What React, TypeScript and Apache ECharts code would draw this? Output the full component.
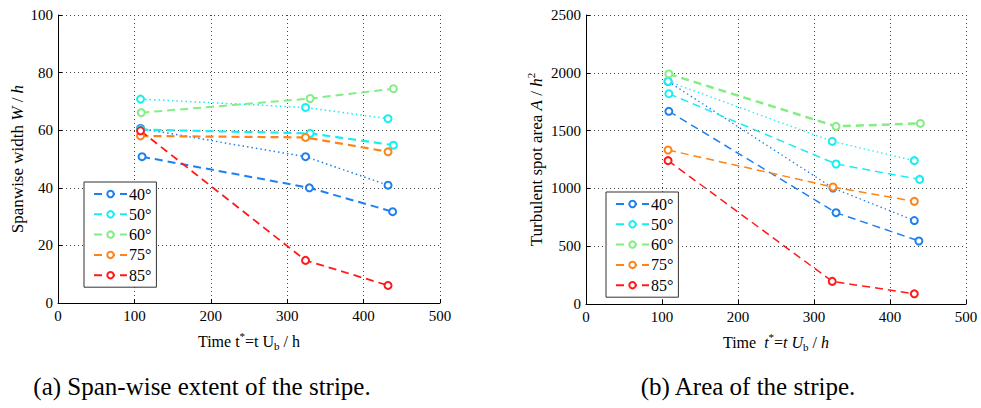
import React, { useEffect, useRef } from "react";
import * as echarts from "echarts";

// ---- data ----
const angleNames = ["40°", "50°", "60°", "75°", "85°"];
const angleColors = ["#1e80f0", "#18eef0", "#84ee84", "#ff8418", "#ff1a1a"];

// (a) Span-wise width W/h  (dashed sets)
const spanT40 = [110, 329, 438];
const spanW40 = [50.8, 40.0, 31.7];
const spanT50 = [108, 330, 439];
const spanW50 = [60.2, 58.9, 54.8];
const spanT60 = [109, 330, 439];
const spanW60 = [66.1, 71.0, 74.4];
const spanT75 = [108, 324, 432];
const spanW75 = [58.0, 57.5, 52.5];
const spanT85 = [108, 324, 432];
const spanW85 = [59.8, 14.8, 6.1];
// (a) dotted sets
const spanT40d = [108, 324, 432];
const spanW40d = [60.6, 50.8, 40.9];
const spanT50d = [108, 324, 432];
const spanW50d = [70.8, 67.9, 64.0];

// (b) Turbulent spot area A/h^2 (dashed sets)
const areaT40 = [109, 329, 438];
const areaA40 = [1667, 790, 545];
const areaT50 = [109, 329, 439];
const areaA50 = [1819, 1211, 1078];
const areaT60 = [109, 329, 440];
const areaA60 = [1990, 1537, 1562];
const areaT75 = [108, 325, 432];
const areaA75 = [1332, 1012, 888];
const areaT85 = [108, 324, 432];
const areaA85 = [1240, 196, 88];
// (b) dotted sets
const areaT40d = [108, 325, 432];
const areaA40d = [1925, 1003, 722];
const areaT50d = [108, 324, 432];
const areaA50d = [1926, 1407, 1240];

const captionA = "(a) Span-wise extent of the stripe.";
const captionB = "(b) Area of the stripe.";

const FONT = "Liberation Serif, serif";

const zip = (xs: number[], ys: number[]) => xs.map((x, i) => [x, ys[i]]);

export default function App() {
  const ref = useRef<HTMLDivElement>(null);
  useEffect(() => {
    document.body.style.margin = "0";
    const chart = echarts.init(ref.current!, undefined, { renderer: "svg" });

    const mk = (
      name: string,
      idx: number,
      data: number[][],
      color: string,
      dotted: boolean,
      width: number
    ) => ({
      type: "line",
      name,
      xAxisIndex: idx,
      yAxisIndex: idx,
      data,
      symbol: "emptyCircle",
      symbolSize: 7,
      showSymbol: true,
      lineStyle: { color, width, type: dotted ? [1.5, 3] : [8, 5] },
      itemStyle: { color, borderColor: color, borderWidth: 1.3 },
      emphasis: { disabled: true },
      z: dotted ? 2 : 3,
    });

    const base = (size: number) => ({ fontFamily: FONT, fontSize: size, color: "#000" });
    const richX = {
      n: { ...base(16) },
      i: { ...base(16), fontStyle: "italic" },
      sup: { ...base(11), padding: [0, 0, 11, 0] },
      sub: { ...base(11), padding: [9, 0, 0, 0] },
    };
    const richY = {
      n: { ...base(17) },
      i: { ...base(17), fontStyle: "italic" },
      sup: { ...base(11), padding: [0, 0, 0, 11] },
    };

    const noComma = (v: number) => String(v);

    const xAxisCommon = {
      type: "value",
      min: 0,
      max: 500,
      interval: 100,
      nameLocation: "middle",
      axisLine: { show: true, onZero: false, lineStyle: { color: "#000", width: 1 } },
      axisTick: { show: true, inside: true, length: 4, lineStyle: { color: "#000" } },
      axisLabel: { fontFamily: FONT, fontSize: 15, color: "#000", margin: 5, formatter: noComma },
      splitLine: { show: true, lineStyle: { type: [1, 3], color: "#444", width: 1 } },
    };
    const yAxisCommon = {
      type: "value",
      nameLocation: "middle",
      nameRotate: 90,
      axisLine: { show: true, onZero: false, lineStyle: { color: "#000", width: 1 } },
      axisTick: { show: true, inside: true, length: 4, lineStyle: { color: "#000" } },
      axisLabel: { fontFamily: FONT, fontSize: 15, color: "#000", margin: 5, formatter: noComma },
      splitLine: { show: true, lineStyle: { type: [1, 3], color: "#444", width: 1 } },
    };

    const legendCommon = {
      orient: "vertical",
      data: angleNames,
      itemWidth: 33,
      itemHeight: 8,
      itemGap: 4.3,
      padding: [4, 5, 4, 9],
      borderColor: "#333",
      borderWidth: 1,
      backgroundColor: "#fff",
      textStyle: { fontFamily: FONT, fontSize: 16, color: "#000", padding: [0, 0, 0, -3] },
      selectedMode: false,
    };

    const option = {
      animation: false,
      backgroundColor: "#fff",
      grid: [
        { left: 58, top: 15, width: 382, height: 288, containLabel: false },
        { left: 586, top: 15, width: 380, height: 289, containLabel: false },
      ],
      xAxis: [
        {
          ...xAxisCommon,
          gridIndex: 0,
          name: "{n|Time t}{sup|*}{n|=t U}{sub|b}{n| / h}",
          nameGap: 27,
          nameTextStyle: { rich: richX },
        },
        {
          ...xAxisCommon,
          gridIndex: 1,
          name: "{n|Time  }{i|t}{sup|*}{n|=}{i|t U}{sub|b}{n| / }{i|h}",
          nameGap: 27,
          nameTextStyle: { rich: richX },
        },
      ],
      yAxis: [
        {
          ...yAxisCommon,
          gridIndex: 0,
          min: 0,
          max: 100,
          interval: 20,
          name: "{n|Spanwise width }{i|W}{n| / }{i|h}",
          nameGap: 32,
          nameTextStyle: { rich: richY },
        },
        {
          ...yAxisCommon,
          gridIndex: 1,
          min: 0,
          max: 2500,
          interval: 500,
          name: "{n|Turbulent spot area }{i|A}{n| / }{i|h}{sup|2}",
          nameGap: 39,
          nameTextStyle: { rich: { ...richY, sup: { ...base(11), padding: [0, 0, 11, 0] } } },
        },
      ],
      legend: [
        { ...legendCommon, left: 84, top: 182 },
        { ...legendCommon, left: 606, top: 192 },
      ],
      series: [
        mk("40° dotted", 0, zip(spanT40d, spanW40d), angleColors[0], true, 1.5),
        mk("50° dotted", 0, zip(spanT50d, spanW50d), angleColors[1], true, 1.5),
        mk(angleNames[0], 0, zip(spanT40, spanW40), angleColors[0], false, 2),
        mk(angleNames[1], 0, zip(spanT50, spanW50), angleColors[1], false, 2.2),
        mk(angleNames[2], 0, zip(spanT60, spanW60), angleColors[2], false, 2),
        mk(angleNames[3], 0, zip(spanT75, spanW75), angleColors[3], false, 2.2),
        mk(angleNames[4], 0, zip(spanT85, spanW85), angleColors[4], false, 1.8),

        mk("40° dotted", 1, zip(areaT40d, areaA40d), angleColors[0], true, 1.3),
        mk("50° dotted", 1, zip(areaT50d, areaA50d), angleColors[1], true, 1.3),
        mk(angleNames[0], 1, zip(areaT40, areaA40), angleColors[0], false, 1.5),
        mk(angleNames[1], 1, zip(areaT50, areaA50), angleColors[1], false, 1.5),
        mk(angleNames[2], 1, zip(areaT60, areaA60), angleColors[2], false, 2.5),
        mk(angleNames[3], 1, zip(areaT75, areaA75), angleColors[3], false, 1.5),
        mk(angleNames[4], 1, zip(areaT85, areaA85), angleColors[4], false, 1.5),
      ],
      graphic: [
        {
          type: "text",
          x: 202,
          y: 386,
          style: {
            text: captionA,
            font: `25px ${FONT}`,
            fill: "#000",
            align: "center",
            verticalAlign: "middle",
          },
        },
        {
          type: "text",
          x: 748,
          y: 386,
          style: {
            text: captionB,
            font: `25px ${FONT}`,
            fill: "#000",
            align: "center",
            verticalAlign: "middle",
          },
        },
      ],
    };
    chart.setOption(option as any);
    return () => chart.dispose();
  }, []);
  return (
    <div
      ref={ref}
      style={{ position: "absolute", left: 0, top: 0, width: 981, height: 408 }}
    />
  );
}
